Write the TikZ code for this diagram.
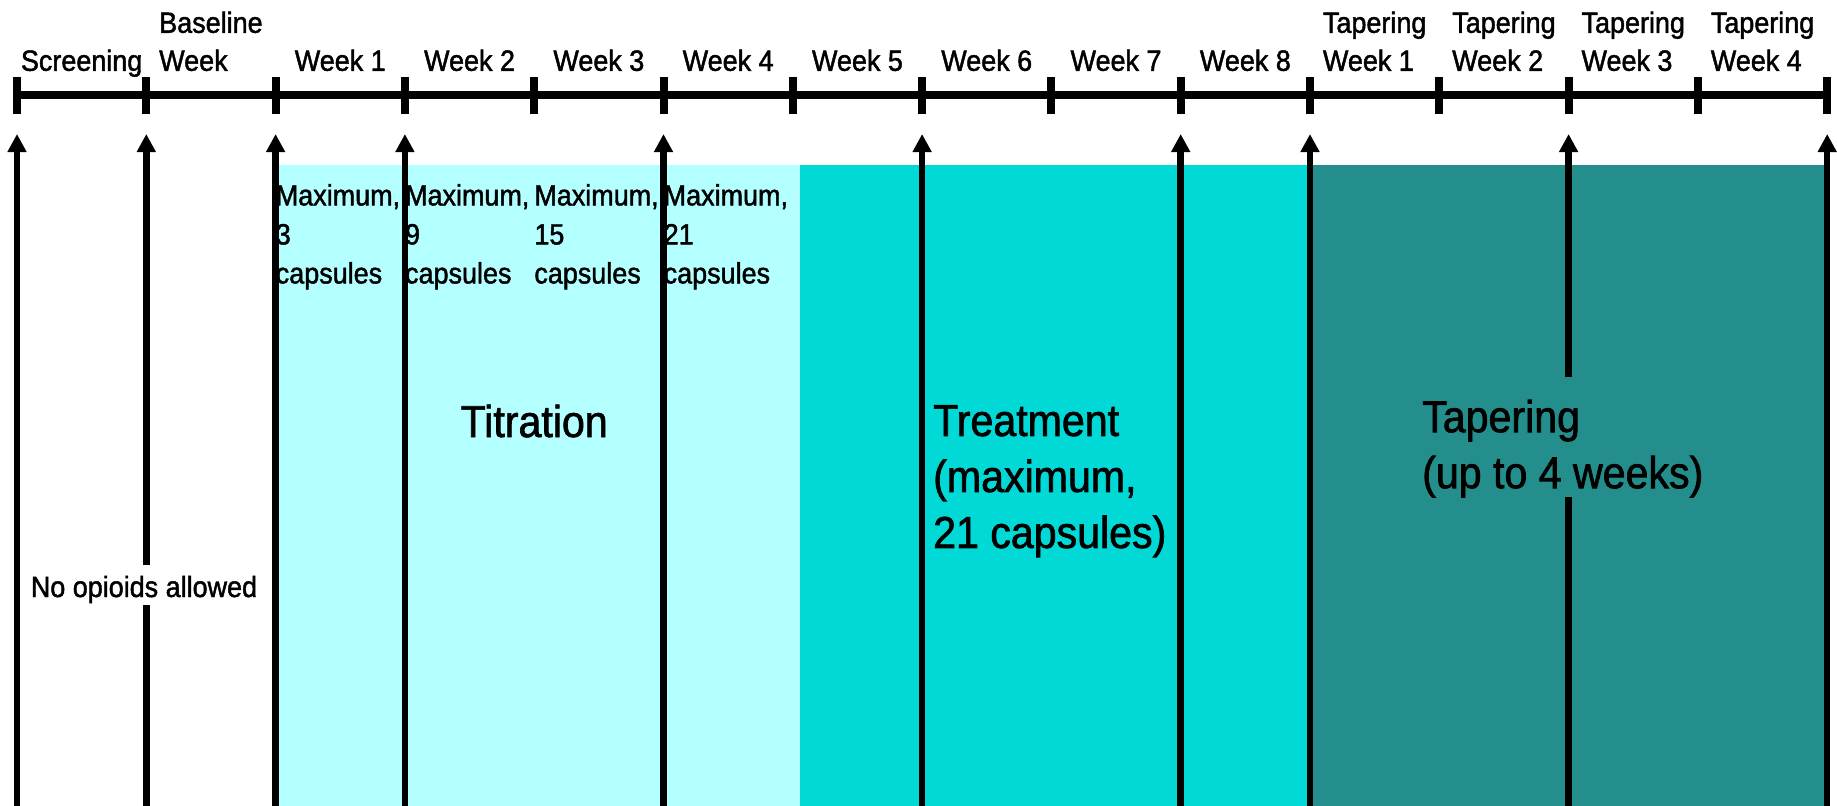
\documentclass[tikz,border=0pt]{standalone}
\usepackage{fontspec}
\setmainfont{Liberation Sans}[FakeStretch=0.92,FakeBold=1.5]
\usetikzlibrary{arrows.meta}
\definecolor{phaseA}{HTML}{B4FFFF}
\definecolor{phaseB}{HTML}{00D9D6}
\definecolor{phaseC}{HTML}{238E8B}
\begin{document}
\begin{tikzpicture}[x=1pt,y=-1pt,
  tickmark/.style={line width=8pt},
  axisline/.style={line width=7.5pt},
  visit/.style={line width=6.5pt,-{Triangle[length=18pt,width=18pt]}},
  wk/.style={font=\fontsize{29.3}{38}\selectfont, align=left, anchor=south, inner sep=0pt, text depth=0pt},
  dose/.style={font=\fontsize{29.3}{39}\selectfont, align=left, anchor=north west, inner sep=0pt},
  phase/.style={font=\fontsize{44.7}{56}\selectfont, align=left, inner sep=0pt},
]
\useasboundingbox (0,0) rectangle (1837,806);
% tick coordinates
\foreach \i in {0,...,14}{
  \pgfmathsetmacro\xx{17+129.3*\i}
  \coordinate (t\i) at (\xx,95);
  \coordinate (a\i) at (\xx,134);
  \coordinate (b\i) at (\xx,806);
}
% phase regions
\fill[phaseA] (275.6,165) rectangle (800,806);
\fill[phaseB] (800,165) rectangle (1310,806);
\fill[phaseC] (1310,165) rectangle (1824,806);
% dose labels
\node[dose] (d1) at (275.6,184) {Maximum,\\3\\capsules};
\node[dose] (d2) at (404.9,184) {Maximum,\\9\\capsules};
\node[dose] (d3) at (534.2,184) {Maximum,\\15\\capsules};
\node[dose] (d4) at (663.5,184) {Maximum,\\21\\capsules};
% visit arrows
\foreach \i in {0,1,2,3,5,7,9,10,12,14}{
  \draw[visit] (b\i) -- (a\i);
}
% phase labels
\node[phase, anchor=base] (titr) at (534.2,437) {Titration};
\node[phase, anchor=north west] (treat) at (933,405) {Treatment\\(maximum,\\21 capsules)};
\node[phase, anchor=north west, fill=phaseC, inner xsep=2pt] (taper) at (1420,377) {\rule{0pt}{55pt}Tapering\\(up to 4 weeks)};
\node[font=\fontsize{29.3}{38}\selectfont, fill=white, inner xsep=2pt, inner ysep=0pt, anchor=base] (noop) at (144,597) {\rule[-8pt]{0pt}{40pt}No opioids allowed};
% axis
\draw[axisline] (t0) -- (t14);
\foreach \i in {0,...,14}{
  \draw[tickmark] ([yshift=-19pt]t\i) -- ([yshift=18pt]t\i);
}
% week labels
\foreach \i/\lab in {0/Screening,1/{Baseline\\Week},2/Week 1,3/Week 2,4/Week 3,5/Week 4,6/Week 5,7/Week 6,8/Week 7,9/Week 8,10/{Tapering\\Week 1},11/{Tapering\\Week 2},12/{Tapering\\Week 3},13/{Tapering\\Week 4}}{
  \pgfmathsetmacro\xc{17+129.3*\i+64.65}
  \node[wk] (w\i) at (\xc,71) {\lab};
}
\end{tikzpicture}
\end{document}
